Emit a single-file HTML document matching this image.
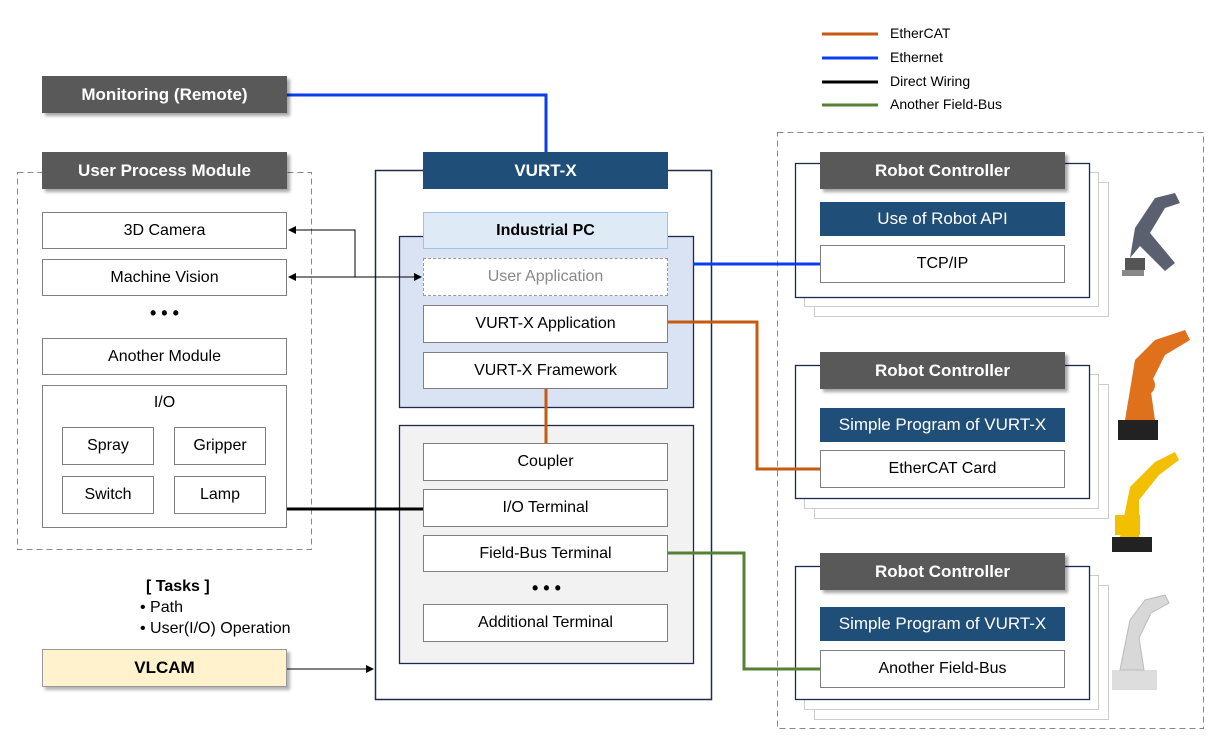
<!DOCTYPE html>
<html><head><meta charset="utf-8"><style>
body{margin:0;width:1224px;height:748px;background:#fff;position:relative;overflow:hidden;font-family:"Liberation Sans","Noto Sans CJK KR",sans-serif;}
.b{position:absolute;box-sizing:border-box;display:flex;align-items:center;justify-content:center;font-size:16px;color:#000;}
.w{background:#fff;border:1px solid #7f7f7f;}
.h{background:#595959;color:#fff;font-weight:bold;font-size:17px;box-shadow:3px 3px 3px rgba(0,0,0,.35);}
.n{background:#1f4e79;color:#fff;font-size:17px;}
.t{position:absolute;font-size:16px;}
svg{position:absolute;left:0;top:0;}
</style></head><body>
<svg width="1224" height="748">
<defs><marker id="a" markerWidth="8" markerHeight="8" refX="7" refY="4" orient="auto" markerUnits="userSpaceOnUse"><path d="M0,0L8,4L0,8z" fill="#000"/></marker></defs>
<rect x="17.5" y="172.5" width="294" height="377" fill="none" stroke="#888" stroke-dasharray="6,4"/>
<rect x="777.5" y="132.5" width="426" height="596" fill="none" stroke="#888" stroke-dasharray="6,4"/>
<rect x="375.5" y="170.5" width="336" height="529" fill="none" stroke="#1a2a50" stroke-width="1.5"/>
<g fill="#fff" stroke="#ccc">
<rect x="814.5" y="182.5" width="294" height="134"/><rect x="804.5" y="172.5" width="294" height="134"/>
<rect x="814.5" y="384.5" width="294" height="134"/><rect x="804.5" y="374.5" width="294" height="134"/>
<rect x="814.5" y="585.5" width="294" height="134"/><rect x="804.5" y="575.5" width="294" height="134"/>
</g>
<g fill="#fff" stroke="#1a2a50" stroke-width="1.3">
<rect x="795.5" y="163.5" width="294" height="134"/>
<rect x="795.5" y="365.5" width="294" height="133"/>
<rect x="795.5" y="566.5" width="294" height="133"/>
</g>
<rect x="399.5" y="236.5" width="294" height="171" fill="#dae3f3" stroke="#1a2a50" stroke-width="1.3"/>
<rect x="399.5" y="425.5" width="294" height="238" fill="#f2f2f2" stroke="#1a2a50" stroke-width="1.3"/>
<g fill="none" stroke-width="3">
<path d="M287 95H546V152" stroke="#0a3cf0"/>
<path d="M693 264H820" stroke="#0a3cf0"/>
<path d="M668 322H757V469H820" stroke="#c55a11"/>
<path d="M546 389V443" stroke="#c55a11"/>
<path d="M668 553H744V669H820" stroke="#538135"/>
<path d="M287 509H423" stroke="#000"/>
<path d="M822 34H878" stroke="#c55a11"/><path d="M822 58H878" stroke="#0a3cf0"/>
<path d="M822 82H878" stroke="#000"/><path d="M822 105H878" stroke="#538135"/>
</g>
<g stroke="#000" stroke-width="1" fill="none">
<path d="M355 277V230H289" marker-end="url(#a)"/>
<path d="M355 277H289" marker-end="url(#a)"/>
<path d="M355 277H421" marker-end="url(#a)"/>
<path d="M287 669H373" marker-end="url(#a)"/>
</g>
<g>
<path d="M1125 270h20v-12h-20z" fill="#555"/><path d="M1130 258l5-30 20-30 20-5 5 10-15 5-15 25 25 30-10 8-25-25z" fill="#5a6070"/><rect x="1122" y="270" width="22" height="6" fill="#888"/>
<path d="M1118 440h40v-20h-40z" fill="#222"/><path d="M1125 420l10-60 20-20 30-10 5 10-25 15-15 30 5 35z" fill="#e0711c"/><circle cx="1145" cy="385" r="10" fill="#e0711c"/>
<path d="M1112 552h40v-15h-40z" fill="#222"/><path d="M1120 537l10-50 25-25 20-10 4 8-20 15-20 25 0 37z" fill="#f2c000"/><rect x="1115" y="515" width="25" height="20" fill="#f2c000"/>
<path d="M1112 690h45v-20h-45z" fill="#ddd"/><path d="M1120 670l10-50 15-20 20-5 4 8-18 10-12 25 5 32z" fill="#d8d8d8" stroke="#bbb"/>
</g>
</svg>
<div class="t" style="left:890px;top:25px;font-size:14px">EtherCAT</div>
<div class="t" style="left:890px;top:49px;font-size:14px">Ethernet</div>
<div class="t" style="left:890px;top:73px;font-size:14px">Direct Wiring</div>
<div class="t" style="left:890px;top:96px;font-size:14px">Another Field-Bus</div>

<div class="b h" style="left:42px;top:76px;width:245px;height:37px">Monitoring (Remote)</div>
<div class="b h" style="left:42px;top:152px;width:245px;height:37px">User Process Module</div>
<div class="b w" style="left:42px;top:212px;width:245px;height:37px">3D Camera</div>
<div class="b w" style="left:42px;top:259px;width:245px;height:37px">Machine Vision</div>
<div class="t" style="left:150px;top:303px;font-weight:bold;font-size:18px">• • •</div>
<div class="b w" style="left:42px;top:338px;width:245px;height:37px">Another Module</div>
<div class="b w" style="left:42px;top:385px;width:245px;height:143px;align-items:flex-start;padding-top:8px">I/O</div>
<div class="b w" style="left:62px;top:427px;width:92px;height:38px">Spray</div>
<div class="b w" style="left:174px;top:427px;width:92px;height:38px">Gripper</div>
<div class="b w" style="left:62px;top:476px;width:92px;height:38px">Switch</div>
<div class="b w" style="left:174px;top:476px;width:92px;height:38px">Lamp</div>
<div class="t" style="left:146px;top:578px;font-weight:bold">[ Tasks ]</div>
<div class="t" style="left:140px;top:599px">• Path</div>
<div class="t" style="left:140px;top:620px">• User(I/O) Operation</div>
<div class="b" style="left:42px;top:649px;width:245px;height:38px;background:#fff2cc;border:1px solid #999;font-weight:bold;font-size:17px;box-shadow:3px 3px 3px rgba(0,0,0,.3)">VLCAM</div>

<div class="b n" style="left:423px;top:152px;width:245px;height:37px;font-weight:bold">VURT-X</div>
<div class="b" style="left:423px;top:212px;width:245px;height:37px;background:#deebf7;border:1px solid #9dc3e6;font-weight:bold">Industrial PC</div>
<div class="b" style="left:423px;top:258px;width:245px;height:38px;background:#fff;border:1px dashed #999;color:#888">User Application</div>
<div class="b w" style="left:423px;top:305px;width:245px;height:38px">VURT-X Application</div>
<div class="b w" style="left:423px;top:352px;width:245px;height:37px">VURT-X Framework</div>
<div class="b w" style="left:423px;top:443px;width:245px;height:38px">Coupler</div>
<div class="b w" style="left:423px;top:489px;width:245px;height:38px">I/O Terminal</div>
<div class="b w" style="left:423px;top:535px;width:245px;height:37px">Field-Bus Terminal</div>
<div class="t" style="left:532px;top:578px;font-weight:bold;font-size:18px">• • •</div>
<div class="b w" style="left:423px;top:604px;width:245px;height:38px">Additional Terminal</div>

<div class="b h" style="left:820px;top:152px;width:245px;height:37px">Robot Controller</div>
<div class="b n" style="left:820px;top:202px;width:245px;height:34px">Use of Robot API</div>
<div class="b w" style="left:820px;top:245px;width:245px;height:38px">TCP/IP</div>
<div class="b h" style="left:820px;top:352px;width:245px;height:37px">Robot Controller</div>
<div class="b n" style="left:820px;top:408px;width:245px;height:34px">Simple Program of VURT-X</div>
<div class="b w" style="left:820px;top:450px;width:245px;height:38px">EtherCAT Card</div>
<div class="b h" style="left:820px;top:553px;width:245px;height:37px">Robot Controller</div>
<div class="b n" style="left:820px;top:607px;width:245px;height:34px">Simple Program of VURT-X</div>
<div class="b w" style="left:820px;top:650px;width:245px;height:38px">Another Field-Bus</div>
</body></html>
